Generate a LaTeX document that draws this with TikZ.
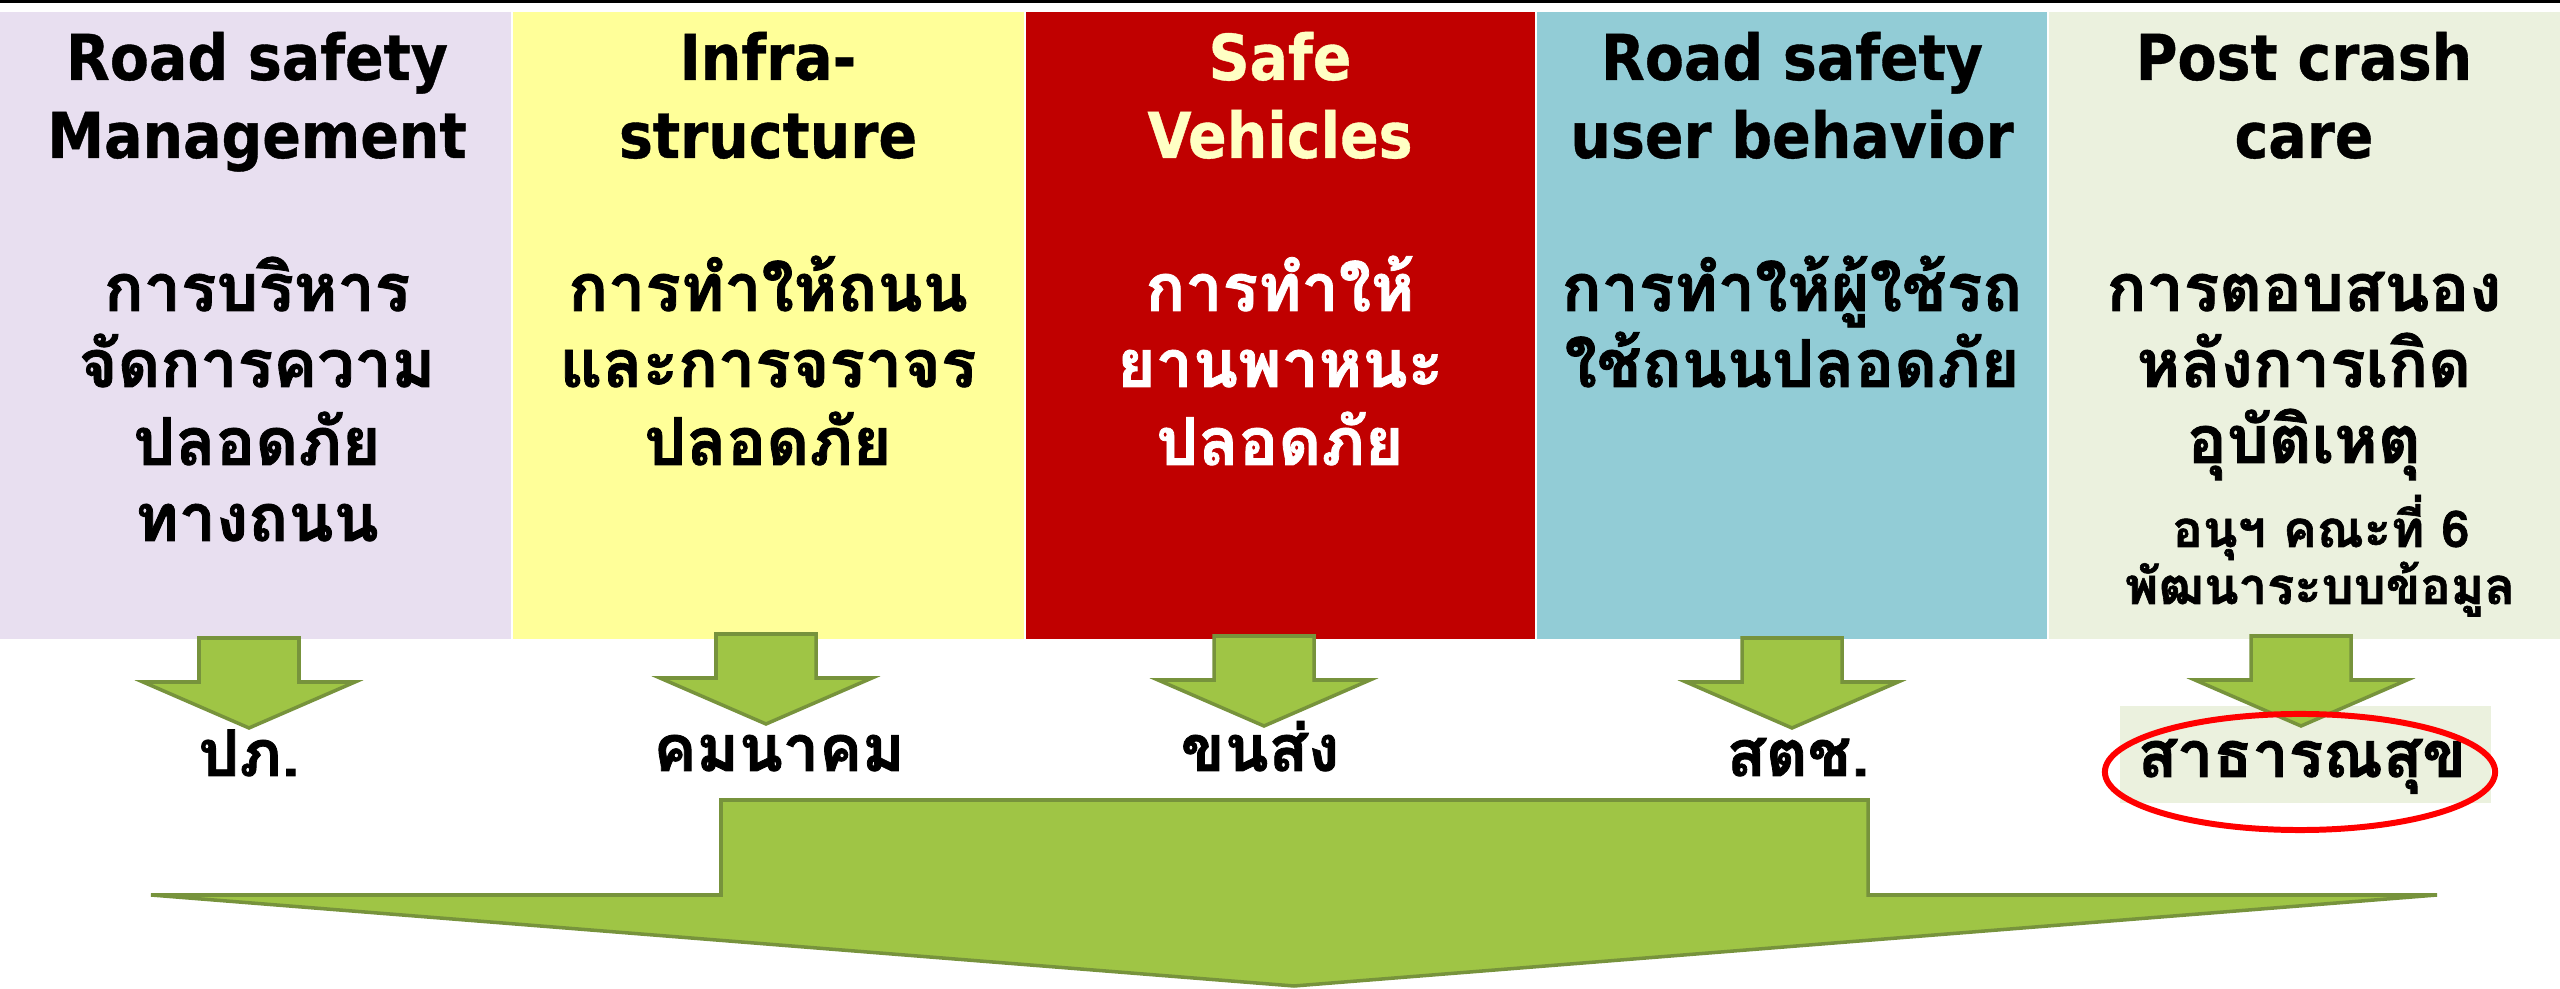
\documentclass[tikz,border=0pt]{standalone}
\usepackage{fontspec}
\setmainfont{DejaVu Sans Condensed}[BoldFeatures={FakeBold=0.6}]
\newfontfamily\thaifont[Script=Thai,BoldFeatures={FakeBold=1.2}]{Loma}
\usetikzlibrary{shapes.geometric}
\definecolor{lav}{HTML}{E8DFF0}
\definecolor{yel}{HTML}{FFFF99}
\definecolor{rd}{HTML}{C00000}
\definecolor{teal}{HTML}{92CCD6}
\definecolor{pale}{HTML}{EBF1DE}
\definecolor{agreen}{HTML}{9FC545}
\definecolor{adark}{HTML}{77933C}
\definecolor{cream}{HTML}{FFFFC4}
\definecolor{ovalred}{HTML}{FF0000}
\begin{document}
\begin{tikzpicture}[x=0.01cm,y=-0.01cm,
  ttl/.style={anchor=base,inner sep=0pt,font=\fontsize{18}{20}\selectfont\bfseries},
  th/.style={anchor=base,inner sep=0pt,font=\fontsize{18.8}{20}\selectfont\thaifont\bfseries},
  lbl/.style={anchor=base,inner sep=0pt,font=\fontsize{18.3}{20}\selectfont\thaifont\bfseries},
  thsmall/.style={anchor=base,inner sep=0pt,font=\fontsize{14.4}{16}\selectfont\thaifont\bfseries},
  garrow/.style={fill=agreen,draw=adark,line width=1pt,line join=miter}]
\useasboundingbox (0,0) rectangle (2560,989);
% top rule
\fill[black] (0,0) rectangle (2560,3.5);
% columns
\fill[lav]  (0,12) rectangle (511,639);
\fill[yel]  (513,12) rectangle (1024,639);
\fill[rd]   (1026,12) rectangle (1535,639);
\fill[teal] (1537,12) rectangle (2047,639);
\fill[pale] (2049,12) rectangle (2560,639);
% titles
\node[ttl] (t1a) at (257,80) {Road safety};
\node[ttl] (t1b) at (257,158) {Management};
\node[ttl] (t2a) at (768,80) {Infra-};
\node[ttl] (t2b) at (768,158) {structure};
\node[ttl,text=cream] (t3a) at (1280,80) {Safe};
\node[ttl,text=cream] (t3b) at (1280,158) {Vehicles};
\node[ttl] (t4a) at (1792,80) {Road safety};
\node[ttl] (t4b) at (1792,158) {user behavior};
\node[ttl] (t5a) at (2304,80) {Post crash};
\node[ttl] (t5b) at (2304,158) {care};
% thai body
\node[th] (h1a) at (257,311) {การบริหาร};
\node[th] (h1b) at (257,387) {จัดการความ};
\node[th] (h1c) at (257,465) {ปลอดภัย};
\node[th] (h1d) at (257,541) {ทางถนน};
\node[th] (h2a) at (768,311) {การทำให้ถนน};
\node[th] (h2b) at (768,387) {และการจราจร};
\node[th] (h2c) at (768,465) {ปลอดภัย};
\node[th,text=white] (h3a) at (1280,311) {การทำให้};
\node[th,text=white] (h3b) at (1280,387) {ยานพาหนะ};
\node[th,text=white] (h3c) at (1280,465) {ปลอดภัย};
\node[th] (h4a) at (1792,311) {การทำให้ผู้ใช้รถ};
\node[th] (h4b) at (1792,387) {ใช้ถนนปลอดภัย};
\node[th] (h5a) at (2304,311) {การตอบสนอง};
\node[th] (h5b) at (2304,387) {หลังการเกิด};
\node[th] (h5c) at (2304,463) {อุบัติเหตุ};
\node[thsmall] (s5a) at (2321,547) {อนุฯ คณะที่ 6};
\node[thsmall] (s5b) at (2320,604) {พัฒนาระบบข้อมูล};
% highlight behind label 5
\fill[pale] (2120,706) rectangle (2491,803);
% small down arrows
\foreach \cx/\t in {249/638, 766/634, 1264/636, 1792/638, 2301/636} {
  \draw[garrow] (\cx-50,\t) -- (\cx+50,\t) -- (\cx+50,\t+44) -- (\cx+106,\t+44)
     -- (\cx,\t+90) -- (\cx-106,\t+44) -- (\cx-50,\t+44) -- cycle;
}
% labels
\node[lbl] (l1) at (249,776) {ปภ.};
\node[lbl] (l2) at (779,771) {คมนาคม};
\node[lbl] (l3) at (1260,771) {ขนส่ง};
\node[lbl] (l4) at (1798,776) {สตช.};
\node[lbl] (l5) at (2302,777) {สาธารณสุข};
\node[ellipse,draw=ovalred,line width=1.7pt,minimum width=3.9cm,minimum height=1.16cm,inner sep=0pt] (oval) at (2300,772) {};
% big arrow
\draw[garrow] (721,800) -- (1868,800) -- (1868,895) -- (2437,895) -- (1294,986)
   -- (151,895) -- (721,895) -- cycle;
\end{tikzpicture}
\end{document}
